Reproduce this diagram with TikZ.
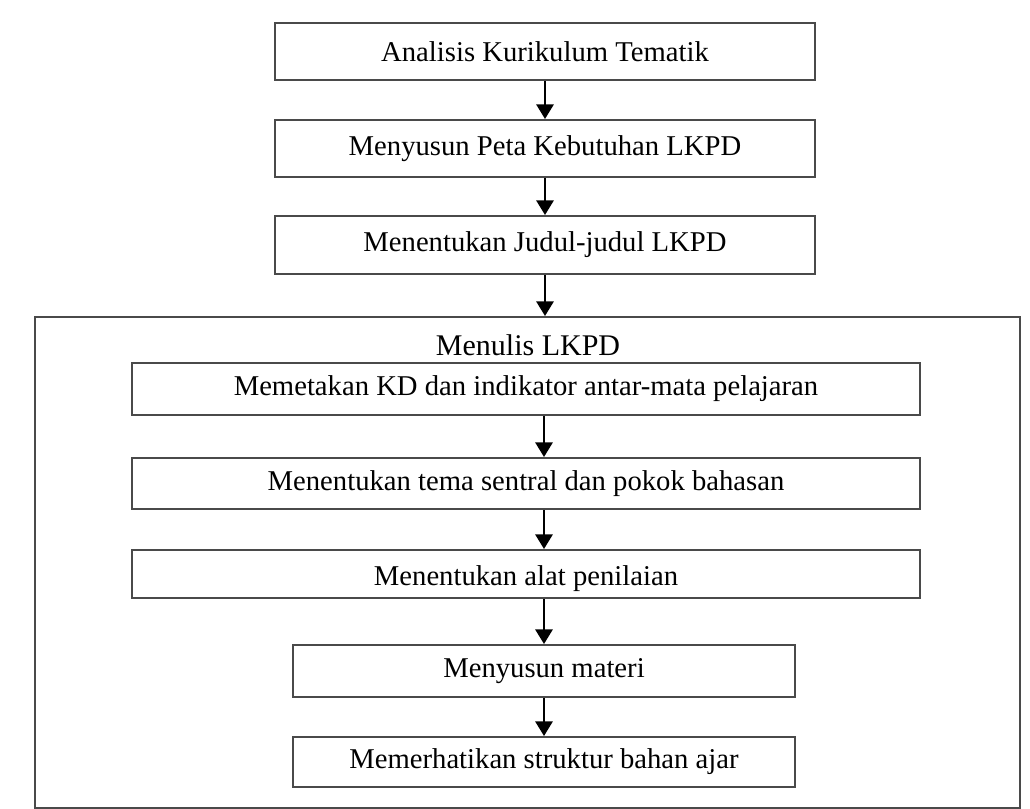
\documentclass[tikz,border=0pt]{standalone}
\usepackage{fontspec}
\setmainfont{Liberation Serif}
\usetikzlibrary{arrows.meta}
\definecolor{boxgray}{HTML}{4A4A4A}
\tikzset{
  stepbox/.style={draw=boxgray, line width=1.5pt, fill=none, inner sep=0pt,
    font=\fontsize{21.5}{24}\selectfont, text=black},
  flow/.style={draw=black, line width=1.5pt, -{Triangle[length=11pt,width=13pt]}},
}
\begin{document}
\begin{tikzpicture}[x=0.75pt,y=-0.75pt]
\useasboundingbox[fill=white] (0,0) rectangle (1030,809);
% outer frame
\node[stepbox, minimum width={985*0.75pt}, minimum height={491*0.75pt}] (frame) at (527.5,562.5) {};
\node[font=\fontsize{22.5}{26}\selectfont] (title) at (528,345) {Menulis LKPD};
% top chain
\node[stepbox, minimum width={540*0.75pt}, minimum height={57*0.75pt}] (a1) at (545,51.5) {Analisis Kurikulum Tematik};
\node[stepbox, minimum width={540*0.75pt}, minimum height={57*0.75pt}] (a2) at (545,148.5) {Menyusun Peta Kebutuhan LKPD};
\node[stepbox, minimum width={540*0.75pt}, minimum height={58*0.75pt}] (a3) at (545,245) {Menentukan Judul-judul LKPD};
% inner chain
\node[stepbox, minimum width={788*0.75pt}, minimum height={52*0.75pt}] (b1) at (526,389) {Memetakan KD dan indikator antar-mata pelajaran};
\node[stepbox, minimum width={788*0.75pt}, minimum height={51*0.75pt}] (b2) at (526,483.5) {Menentukan tema sentral dan pokok bahasan};
\node[stepbox, minimum width={788*0.75pt}, minimum height={48*0.75pt}] (b3) at (526,574) {};
\node[font=\fontsize{21.5}{24}\selectfont, inner sep=0pt] (b3t) at (526,579) {Menentukan alat penilaian};
\node[stepbox, minimum width={502*0.75pt}, minimum height={52*0.75pt}] (b4) at (544,671) {Menyusun materi};
\node[stepbox, minimum width={502*0.75pt}, minimum height={50*0.75pt}] (b5) at (544,762) {Memerhatikan struktur bahan ajar};
% arrows
\draw[flow] (a1.south) -- (a2.north);
\draw[flow] (a2.south) -- (a3.north);
\draw[flow] (a3.south) -- (a3.south |- frame.north);
\draw[flow] (b1.south -| b4.north) -- (b2.north -| b4.north);
\draw[flow] (b2.south -| b4.north) -- (b3.north -| b4.north);
\draw[flow] (b3.south -| b4.north) -- (b4.north);
\draw[flow] (b4.south) -- (b5.north);
\end{tikzpicture}
\end{document}
